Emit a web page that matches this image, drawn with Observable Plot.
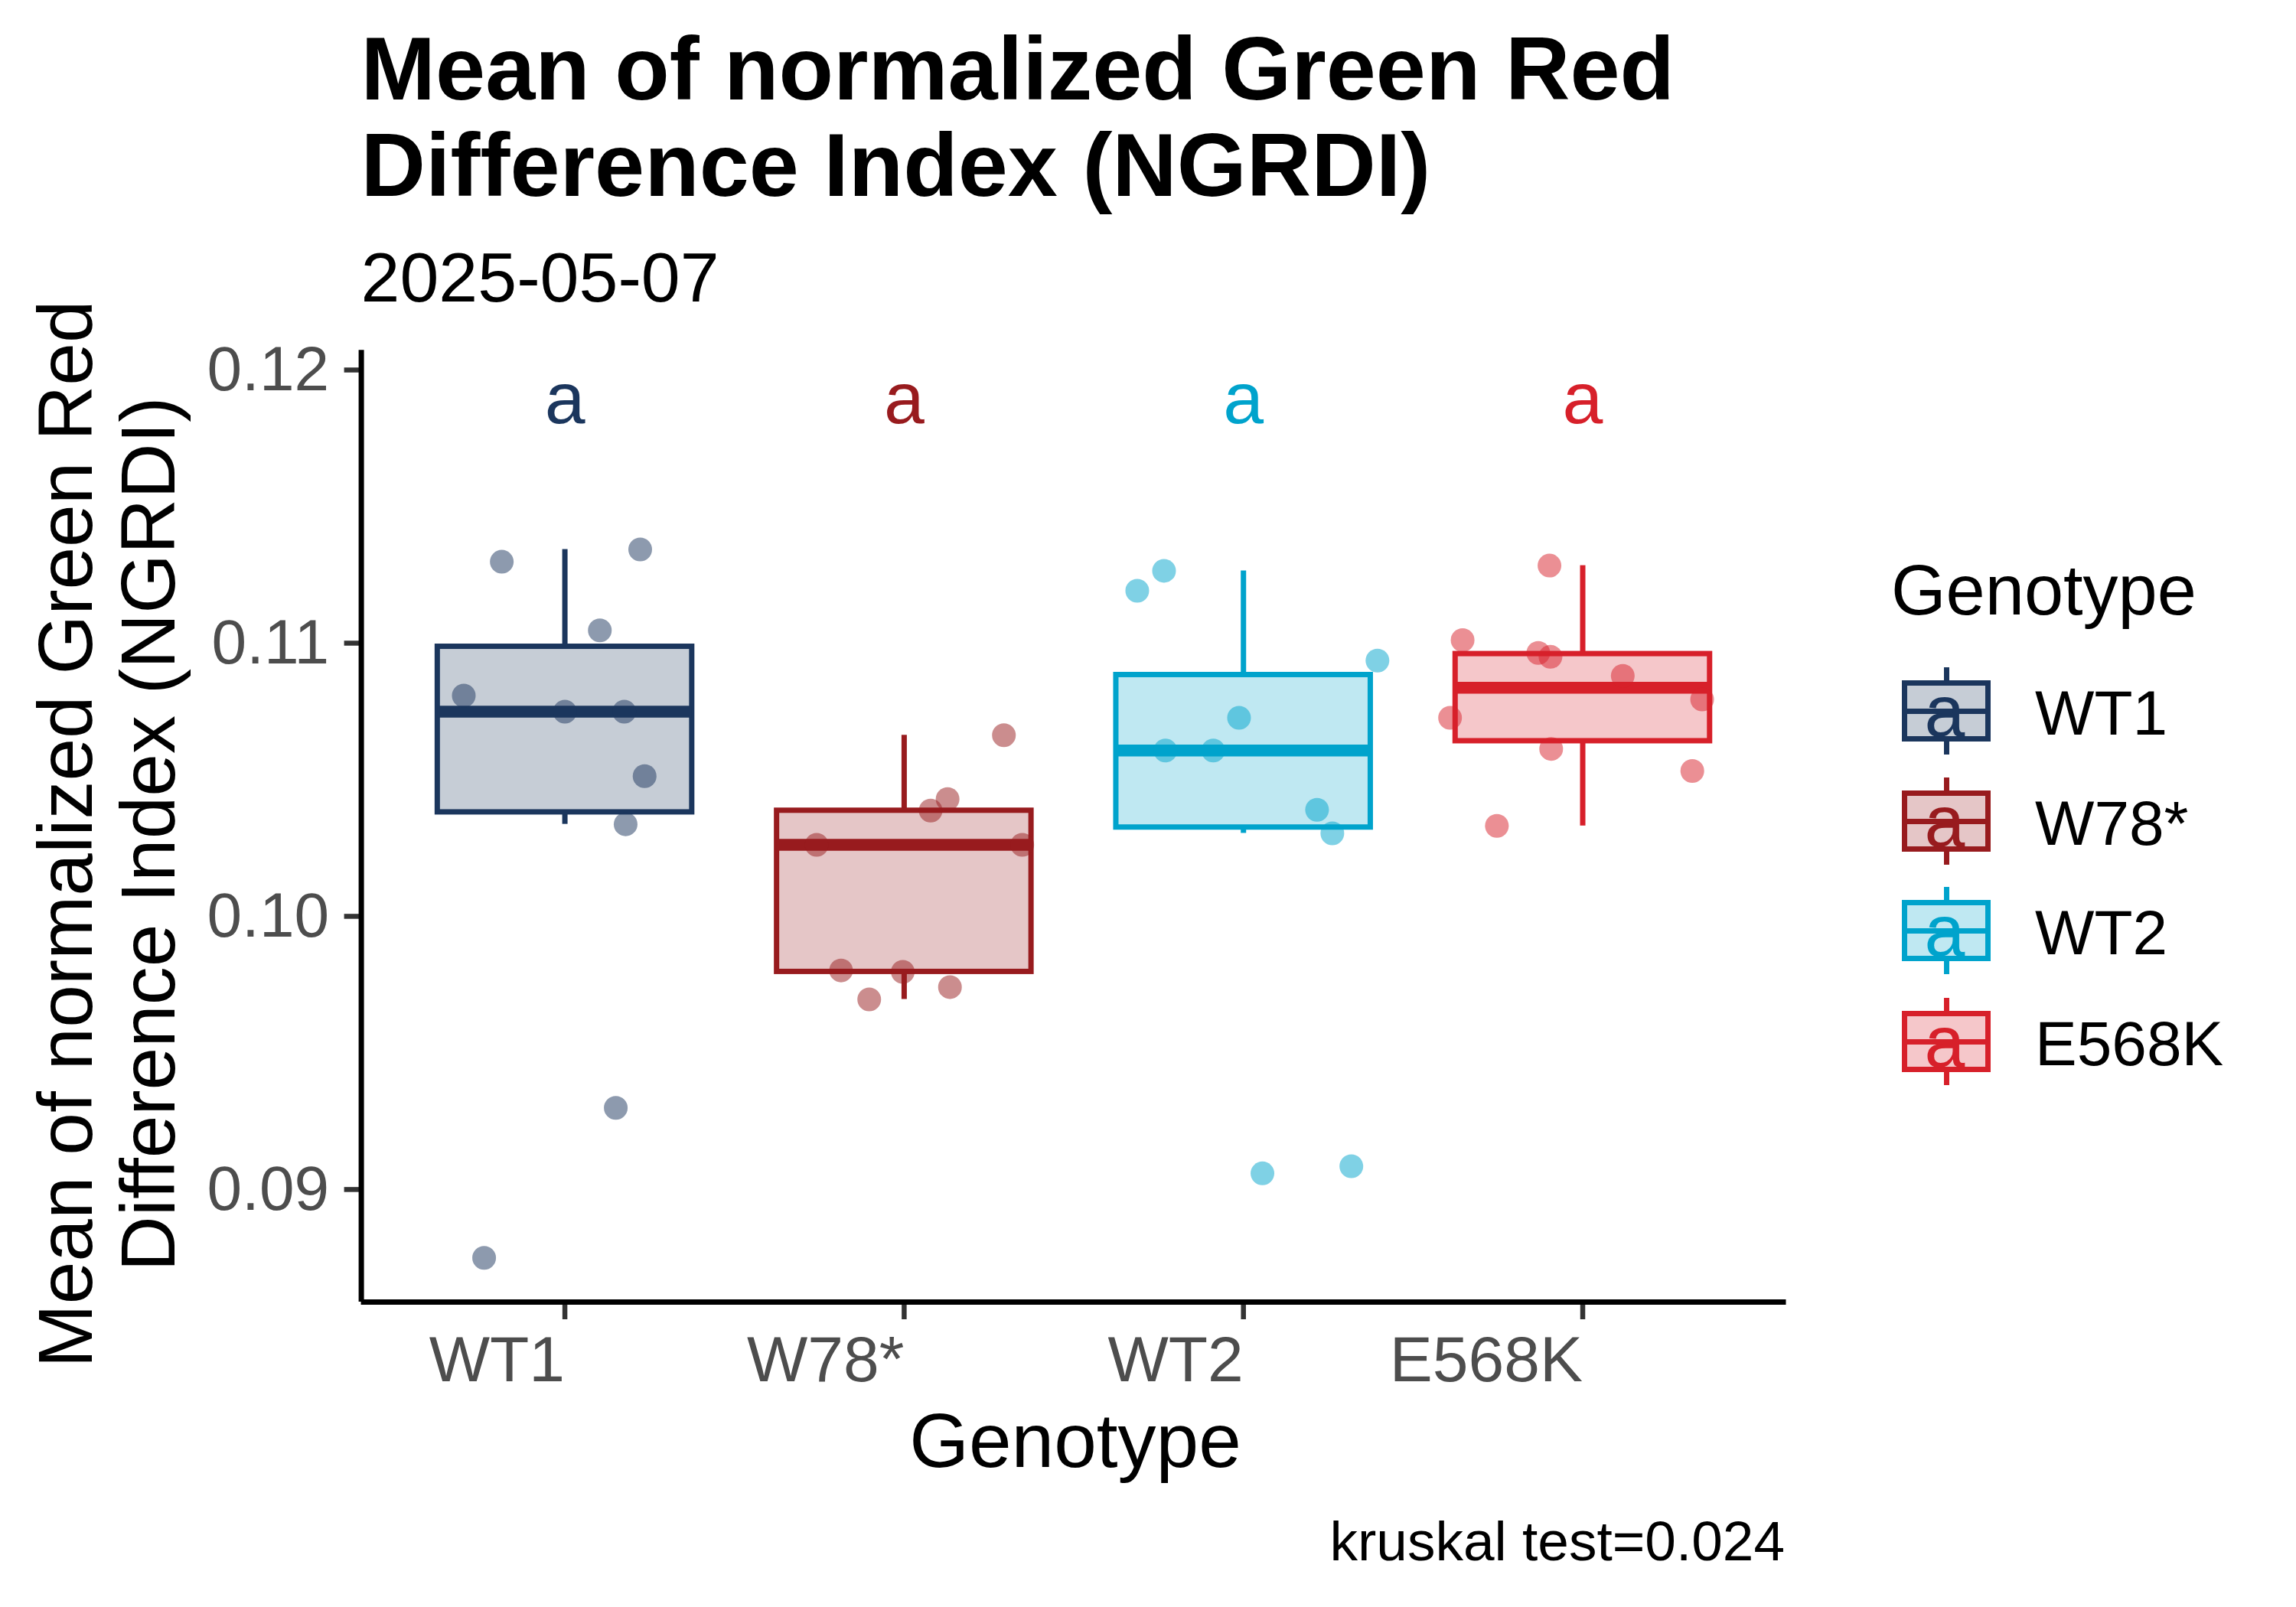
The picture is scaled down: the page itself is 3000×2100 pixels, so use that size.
<!DOCTYPE html>
<html><head><meta charset="utf-8">
<script src="https://cdn.jsdelivr.net/npm/d3@7"></script>
<script src="https://cdn.jsdelivr.net/npm/@observablehq/plot@0.6"></script>
<style>
html,body{margin:0;padding:0;background:#fff;}
#wrap{position:relative;width:3000px;height:2100px;overflow:hidden;background:#fff;font-family:"Liberation Sans",Arial,Helvetica,sans-serif;}
#wrap svg{position:absolute;left:0;top:0;}
.t{position:absolute;white-space:nowrap;color:#000;}
.key{position:absolute;box-sizing:border-box;}
</style></head><body><div id="wrap"></div>
<script>
// ---------- data ----------
const genotypes = ["WT1", "W78*", "WT2", "E568K"];
const colors = ["#1B365D", "#981B1E", "#00A3CC", "#D7202A"];
const letters = ["a", "a", "a", "a"];
const letterY = [0.1189, 0.1189, 0.1189, 0.1189];
const yTicks = [0.09, 0.10, 0.11, 0.12];

const ngrdiWT1   = [0.11298, 0.11343, 0.11047, 0.10808, 0.10749, 0.10749, 0.10513, 0.10337, 0.09299, 0.08750];
const jitterWT1  = [-0.186, 0.222, 0.103, -0.298, 0.000, 0.175, 0.235, 0.179, 0.150, -0.238];
const ngrdiW78   = [0.10663, 0.10429, 0.10387, 0.10262, 0.10262, 0.09802, 0.09797, 0.09741, 0.09696];
const jitterW78  = [0.294, 0.128, 0.078, -0.258, 0.348, -0.186, -0.004, 0.135, -0.103];
const ngrdiWT2   = [0.11265, 0.11192, 0.10936, 0.10727, 0.10607, 0.10607, 0.10390, 0.10304, 0.09059, 0.09085];
const jitterWT2  = [-0.234, -0.313, 0.395, -0.013, -0.230, -0.089, 0.217, 0.262, 0.056, 0.318];
const ngrdiE568K = [0.11284, 0.11011, 0.10964, 0.10950, 0.10880, 0.10794, 0.10727, 0.10613, 0.10532, 0.10331];
const jitterE568K= [-0.098, -0.354, -0.131, -0.095, 0.118, 0.352, -0.391, -0.093, 0.323, -0.253];

const titleLines = ["Mean of normalized Green Red", "Difference Index (NGRDI)"];
const subtitle = "2025-05-07";
const yTitleLines = ["Mean of normalized Green Red", "Difference Index (NGRDI)"];
const xTitle = "Genotype";
const legendTitle = "Genotype";
const caption = "kruskal test=0.024";

// ---------- derived ----------
const series = [ngrdiWT1, ngrdiW78, ngrdiWT2, ngrdiE568K];
const jitters = [jitterWT1, jitterW78, jitterWT2, jitterE568K];
const points = series.flatMap((vals, i) => vals.map((v, j) => ({g: genotypes[i], x: i + jitters[i][j], y: v})));
const stats = series.map((vals, i) => {
  const s = vals.slice().sort(d3.ascending);
  const q1 = d3.quantileSorted(s, 0.25), med = d3.quantileSorted(s, 0.5), q3 = d3.quantileSorted(s, 0.75);
  const iqr = q3 - q1;
  const lo = d3.min(s.filter(v => v >= q1 - 1.5 * iqr));
  const hi = d3.max(s.filter(v => v <= q3 + 1.5 * iqr));
  return {g: genotypes[i], i, q1, med, q3, lo, hi};
});

const boxHalf = 0.375;
const xDomain = [-0.6, 3.6];
const yDomain = [0.08588, 0.12072];
const FONT = '"Liberation Sans", Arial, Helvetica, sans-serif';

const chart = Plot.plot({
  width: 3000, height: 2100,
  marginLeft: 471.6, marginRight: 666.5, marginTop: 457.3, marginBottom: 399,
  x: {type: "linear", domain: xDomain, axis: null},
  y: {domain: yDomain, axis: null},
  color: {domain: genotypes, range: colors},
  style: {fontFamily: FONT, background: "transparent", overflow: "visible"},
  marks: [
    Plot.ruleX(stats, {x: "i", y1: "q3", y2: "hi", stroke: "g", strokeWidth: 7}),
    Plot.ruleX(stats, {x: "i", y1: "lo", y2: "q1", stroke: "g", strokeWidth: 7}),
    Plot.rect(stats, {x1: d => d.i - boxHalf, x2: d => d.i + boxHalf, y1: "q1", y2: "q3",
      fill: "g", fillOpacity: 0.25, stroke: "g", strokeWidth: 7}),
    Plot.ruleY(stats, {y: "med", x1: d => d.i - boxHalf, x2: d => d.i + boxHalf, stroke: "g", strokeWidth: 15.5}),
    Plot.dot(points, {x: "x", y: "y", r: 15.5, fill: "g", fillOpacity: 0.5, stroke: null}),
    Plot.text(genotypes, {x: (d, i) => i, y: (d, i) => letterY[i], text: (d, i) => letters[i],
      fill: d => d, fontSize: 95, lineAnchor: "middle", textAnchor: "middle"}),
    Plot.axisY({ticks: yTicks, tickFormat: d3.format(".2f"), tickSize: 22, tickPadding: 20,
      fontSize: 82, fill: "#4D4D4D", stroke: "#333333", strokeWidth: 6.5, label: null}),
    Plot.axisX({ticks: [0, 1, 2, 3], tickFormat: i => genotypes[i], tickSize: 23, tickPadding: 21,
      fontSize: 84, fill: "#4D4D4D", stroke: "#333333", strokeWidth: 6.5, textAnchor: "end", label: null}),
    Plot.ruleX([xDomain[0]], {stroke: "black", strokeWidth: 7}),
    Plot.ruleY([yDomain[0]], {stroke: "black", strokeWidth: 7})
  ]
});

const wrap = document.getElementById("wrap");
wrap.appendChild(chart);

// ---------- text helpers ----------
function topFor(baseline, size, lh) { return baseline - ((lh - 1.117 * size) / 2 + 0.905 * size); }
function addText(txt, o) {
  const d = document.createElement("div");
  d.className = "t";
  const lh = o.lh || o.size;
  d.style.fontSize = o.size + "px";
  d.style.lineHeight = lh + "px";
  d.style.fontWeight = o.weight || "normal";
  d.style.color = o.color || "#000";
  d.style.top = topFor(o.baseline, o.size, lh) + "px";
  if (o.align === "center") { d.style.left = (o.x - 1000) + "px"; d.style.width = "2000px"; d.style.textAlign = "center"; }
  else if (o.align === "right") { d.style.left = (o.x - 1500) + "px"; d.style.width = "1500px"; d.style.textAlign = "right"; }
  else { d.style.left = o.x + "px"; }
  if (Array.isArray(txt)) { txt.forEach((l, k) => { if (k) d.appendChild(document.createElement("br")); d.appendChild(document.createTextNode(l)); }); }
  else d.textContent = txt;
  wrap.appendChild(d);
  return d;
}

// title & subtitle
addText(titleLines, {x: 471.6, baseline: 131, size: 117, lh: 126, weight: "bold"});
addText(subtitle, {x: 471.6, baseline: 394, size: 91.5});
// x title
addText(xTitle, {x: 1405, baseline: 1917, size: 100, align: "center"});
// caption
addText(caption, {x: 2332, baseline: 2039, size: 73, align: "right"});

// y title (rotated)
(function () {
  const d = document.createElement("div");
  d.className = "t";
  d.style.fontSize = "100px";
  d.style.lineHeight = "108px";
  d.style.width = "1600px";
  d.style.height = "216px";
  d.style.textAlign = "center";
  d.style.left = (139.4 - 800) + "px";
  d.style.top = (1090 - 108) + "px";
  d.style.transform = "rotate(-90deg)";
  d.style.transformOrigin = "50% 50%";
  yTitleLines.forEach((l, k) => { if (k) d.appendChild(document.createElement("br")); d.appendChild(document.createTextNode(l)); });
  wrap.appendChild(d);
})();

// legend
addText(legendTitle, {x: 2471, baseline: 803, size: 92});
const keyCenters = [929, 1073, 1216, 1361];
genotypes.forEach((g, i) => {
  const c = colors[i], cy = keyCenters[i];
  const rgb = d3.rgb(c);
  const box = document.createElement("div");
  box.className = "key";
  Object.assign(box.style, {left: "2485px", top: (cy - 40) + "px", width: "116px", height: "80px",
    border: `7px solid ${c}`, background: `rgba(${rgb.r},${rgb.g},${rgb.b},0.25)`});
  wrap.appendChild(box);
  const med = document.createElement("div");
  med.className = "key";
  Object.assign(med.style, {left: "2485px", top: (cy - 3.5) + "px", width: "116px", height: "7px", background: c});
  wrap.appendChild(med);
  [[cy - 57, cy - 40], [cy + 40, cy + 57]].forEach(([a, b]) => {
    const w = document.createElement("div");
    w.className = "key";
    Object.assign(w.style, {left: "2539.5px", top: a + "px", width: "7px", height: (b - a) + "px", background: c});
    wrap.appendChild(w);
  });
  addText(letters[i], {x: 2541, baseline: cy + 33, size: 95, color: c, align: "center"});
  addText(g, {x: 2659, baseline: cy + 31.5, size: 82});
});
</script></body></html>
